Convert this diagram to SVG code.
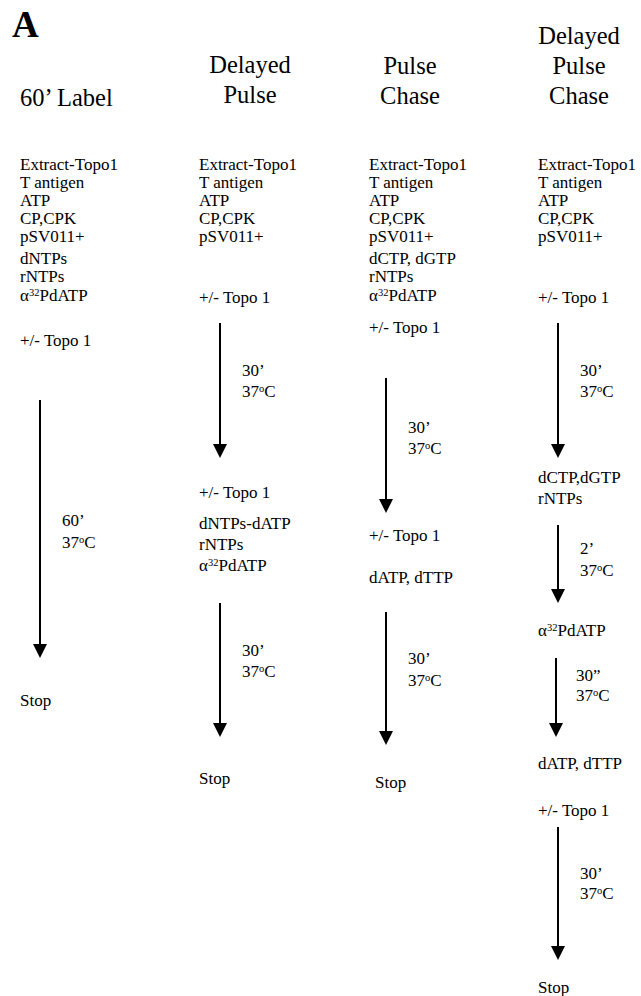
<svg xmlns="http://www.w3.org/2000/svg" width="641" height="996" viewBox="0 0 641 996">
<defs>
<style>
text{font-family:"Liberation Serif","Times New Roman",serif;fill:#000}
.t{font-size:24.5px}
.b{font-size:17px}
.c{text-anchor:middle}
.sup{font-size:10.5px}
.arr{stroke:#000;stroke-width:2;fill:none;marker-end:url(#ah)}
</style>
<marker id="ah" viewBox="0 0 14 14" refX="12" refY="7" markerWidth="14" markerHeight="14" markerUnits="userSpaceOnUse" orient="auto">
<path d="M0,0 L14,7 L0,14 z" fill="#000"/>
</marker>
</defs>
<rect width="641" height="996" fill="#fff"/>
<text x="12" y="37" style="font-size:37px;font-weight:bold">A</text>

<g id="titles">
<text class="t" x="20" y="106">60’ Label</text>
<text class="t c" x="250" y="73">Delayed</text>
<text class="t c" x="250" y="103">Pulse</text>
<text class="t c" x="410" y="74">Pulse</text>
<text class="t c" x="410" y="104">Chase</text>
<text class="t c" x="579" y="44">Delayed</text>
<text class="t c" x="579" y="74">Pulse</text>
<text class="t c" x="579" y="104">Chase</text>
</g>

<!-- Column 1: 60' Label -->
<g id="c1-mix">
<text class="b" x="20" y="170">Extract-Topo1</text>
<text class="b" x="20" y="188">T antigen</text>
<text class="b" x="20" y="206">ATP</text>
<text class="b" x="20" y="224">CP,CPK</text>
<text class="b" x="20" y="242">pSV011+</text>
<text class="b" x="20" y="264">dNTPs</text>
<text class="b" x="20" y="282">rNTPs</text>
<text class="b" x="20" y="301">α<tspan class="sup" dy="-5">32</tspan><tspan dy="5">PdATP</tspan></text>
<text class="b" x="20" y="346">+/- Topo 1</text>
</g>
<g id="c1-step1">
<text class="b" x="62" y="526">60’</text>
<text class="b" x="62" y="548">37<tspan class="sup" dy="-5">o</tspan><tspan dy="5">C</tspan></text>
</g>
<g id="c1-stop"><text class="b" x="20" y="706">Stop</text></g>

<!-- Column 2: Delayed Pulse -->
<g id="c2-mix">
<text class="b" x="199" y="170">Extract-Topo1</text>
<text class="b" x="199" y="188">T antigen</text>
<text class="b" x="199" y="206">ATP</text>
<text class="b" x="199" y="224">CP,CPK</text>
<text class="b" x="199" y="242">pSV011+</text>
<text class="b" x="199" y="303">+/- Topo 1</text>
</g>
<g id="c2-step1">
<text class="b" x="242" y="376">30’</text>
<text class="b" x="242" y="397">37<tspan class="sup" dy="-5">o</tspan><tspan dy="5">C</tspan></text>
</g>
<g id="c2-add">
<text class="b" x="199" y="498">+/- Topo 1</text>
<text class="b" x="199" y="529">dNTPs-dATP</text>
<text class="b" x="199" y="550">rNTPs</text>
<text class="b" x="199" y="571">α<tspan class="sup" dy="-5">32</tspan><tspan dy="5">PdATP</tspan></text>
</g>
<g id="c2-step2">
<text class="b" x="242" y="656">30’</text>
<text class="b" x="242" y="677">37<tspan class="sup" dy="-5">o</tspan><tspan dy="5">C</tspan></text>
</g>
<g id="c2-stop"><text class="b" x="199" y="784">Stop</text></g>

<!-- Column 3: Pulse Chase -->
<g id="c3-mix">
<text class="b" x="369" y="170">Extract-Topo1</text>
<text class="b" x="369" y="188">T antigen</text>
<text class="b" x="369" y="206">ATP</text>
<text class="b" x="369" y="224">CP,CPK</text>
<text class="b" x="369" y="242">pSV011+</text>
<text class="b" x="369" y="264">dCTP, dGTP</text>
<text class="b" x="369" y="282">rNTPs</text>
<text class="b" x="369" y="301">α<tspan class="sup" dy="-5">32</tspan><tspan dy="5">PdATP</tspan></text>
<text class="b" x="369" y="333">+/- Topo 1</text>
</g>
<g id="c3-step1">
<text class="b" x="408" y="433">30’</text>
<text class="b" x="408" y="454">37<tspan class="sup" dy="-5">o</tspan><tspan dy="5">C</tspan></text>
</g>
<g id="c3-add">
<text class="b" x="369" y="541">+/- Topo 1</text>
<text class="b" x="369" y="583">dATP, dTTP</text>
</g>
<g id="c3-step2">
<text class="b" x="408" y="664">30’</text>
<text class="b" x="408" y="686">37<tspan class="sup" dy="-5">o</tspan><tspan dy="5">C</tspan></text>
</g>
<g id="c3-stop"><text class="b" x="375" y="788">Stop</text></g>

<!-- Column 4: Delayed Pulse Chase -->
<g id="c4-mix">
<text class="b" x="538" y="170">Extract-Topo1</text>
<text class="b" x="538" y="188">T antigen</text>
<text class="b" x="538" y="206">ATP</text>
<text class="b" x="538" y="224">CP,CPK</text>
<text class="b" x="538" y="242">pSV011+</text>
<text class="b" x="538" y="303">+/- Topo 1</text>
</g>
<g id="c4-step1">
<text class="b" x="580" y="376">30’</text>
<text class="b" x="580" y="397">37<tspan class="sup" dy="-5">o</tspan><tspan dy="5">C</tspan></text>
</g>
<g id="c4-add1">
<text class="b" x="538" y="483">dCTP,dGTP</text>
<text class="b" x="538" y="504">rNTPs</text>
</g>
<g id="c4-step2">
<text class="b" x="580" y="554">2’</text>
<text class="b" x="580" y="576">37<tspan class="sup" dy="-5">o</tspan><tspan dy="5">C</tspan></text>
</g>
<g id="c4-add2">
<text class="b" x="538" y="636">α<tspan class="sup" dy="-5">32</tspan><tspan dy="5">PdATP</tspan></text>
</g>
<g id="c4-step3">
<text class="b" x="576" y="681">30”</text>
<text class="b" x="576" y="701">37<tspan class="sup" dy="-5">o</tspan><tspan dy="5">C</tspan></text>
</g>
<g id="c4-add3">
<text class="b" x="538" y="769">dATP, dTTP</text>
<text class="b" x="538" y="816">+/- Topo 1</text>
</g>
<g id="c4-step4">
<text class="b" x="580" y="879">30’</text>
<text class="b" x="580" y="899">37<tspan class="sup" dy="-5">o</tspan><tspan dy="5">C</tspan></text>
</g>
<g id="c4-stop"><text class="b" x="538" y="993">Stop</text></g>

<g id="connectors">
<line class="arr" x1="40" y1="400" x2="40" y2="656"/>
<line class="arr" x1="220" y1="323" x2="220" y2="456"/>
<line class="arr" x1="220" y1="603" x2="220" y2="735"/>
<line class="arr" x1="386" y1="378" x2="386" y2="511"/>
<line class="arr" x1="386" y1="612" x2="386" y2="743"/>
<line class="arr" x1="558" y1="323" x2="558" y2="456"/>
<line class="arr" x1="558" y1="525" x2="558" y2="601"/>
<line class="arr" x1="556" y1="658" x2="556" y2="735"/>
<line class="arr" x1="558" y1="827" x2="558" y2="958"/>
</g>
</svg>
